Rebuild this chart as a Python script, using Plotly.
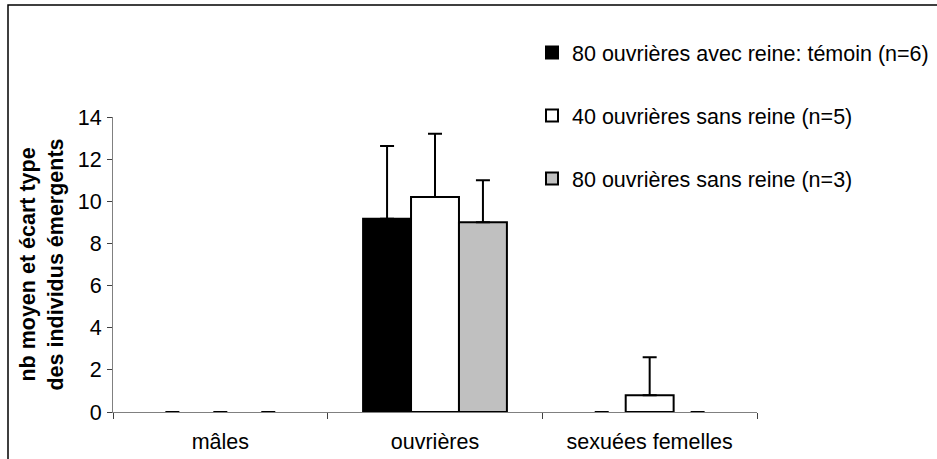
import plotly.graph_objects as go

categories = ["mâles", "ouvrières", "sexuées femelles"]
series_names = [
    "80 ouvrières avec reine: témoin (n=6)",
    "40 ouvrières sans reine (n=5)",
    "80 ouvrières sans reine (n=3)",
]
means_temoin = [0, 9.17, 0]
sd_temoin = [0, 3.45, 0]
means_40 = [0, 10.2, 0.8]
sd_40 = [0, 3.0, 1.8]
means_80 = [0, 9.0, 0]
sd_80 = [0, 2.0, 0]
colors = ["#000000", "#ffffff", "#c0c0c0"]
y_ticks = [0, 2, 4, 6, 8, 10, 12, 14]

FONT = "Arial, 'Liberation Sans', sans-serif"
FS = 21.5

fig = go.Figure()
for i, (name, m, s) in enumerate(zip(series_names, [means_temoin, means_40, means_80], [sd_temoin, sd_40, sd_80])):
    fig.add_trace(go.Bar(
        x=categories, y=m, name=name, legendgroup=f"g{i}", offsetgroup=f"g{i}",
        showlegend=False,
        marker=dict(color=colors[i],
                    line=dict(color="#000000", width=[2 if v else 0 for v in m])),
        error_y=dict(type="data", symmetric=False, array=s, arrayminus=[0] * len(s),
                     color="#000000", thickness=2, width=7),
    ))
# legend entries (no data drawn)
for i, name in enumerate(series_names):
    fig.add_trace(go.Bar(
        x=[None], y=[None], name=name, legendgroup=f"g{i}", offsetgroup=f"g{i}",
        showlegend=True,
        marker=dict(color=colors[i], line=dict(color="#000000", width=2)),
    ))

fig.update_layout(
    template="none",
    width=937, height=459,
    margin=dict(l=113, r=180, t=117, b=47, autoexpand=False),
    paper_bgcolor="white", plot_bgcolor="white",
    barmode="group", bargap=0.33, bargroupgap=0,
    font=dict(family=FONT, size=FS, color="#000000"),
    showlegend=True,
    legend=dict(x=(532 - 113) / 644, y=1 + (117 - 32) / 295, xanchor="left", yanchor="top",
                font=dict(size=FS), tracegroupgap=32, bgcolor="rgba(0,0,0,0)",
                traceorder="grouped", borderwidth=0),
    xaxis=dict(showline=True, linecolor="#808080", linewidth=1, ticks="outside",
               tickson="boundaries", ticklen=6, tickcolor="#404040", automargin=False,
               showgrid=False, tickfont=dict(size=FS), ticklabelstandoff=10),
    yaxis=dict(range=[0, 14], tickvals=y_ticks, showline=True, linecolor="#808080",
               linewidth=1, ticks="outside", ticklen=5, tickcolor="#404040",
               showgrid=False, zeroline=False, tickfont=dict(size=FS), automargin=False,
               ticklabelstandoff=1,
               title=dict(text="<b>nb moyen et écart type<br>des individus émergents</b>",
                          font=dict(size=FS), standoff=8)),
    shapes=[dict(type="rect", xref="paper", yref="paper",
                 x0=(8 - 113) / 644, x1=2, y0=-2, y1=1 + (117 - 5) / 295,
                 line=dict(color="#000000", width=1.5), fillcolor="rgba(0,0,0,0)")],
)

fig.write_html("out.html", config={"displayModeBar": False},
               post_script="document.body.style.margin='0';document.body.style.overflow='hidden';")
